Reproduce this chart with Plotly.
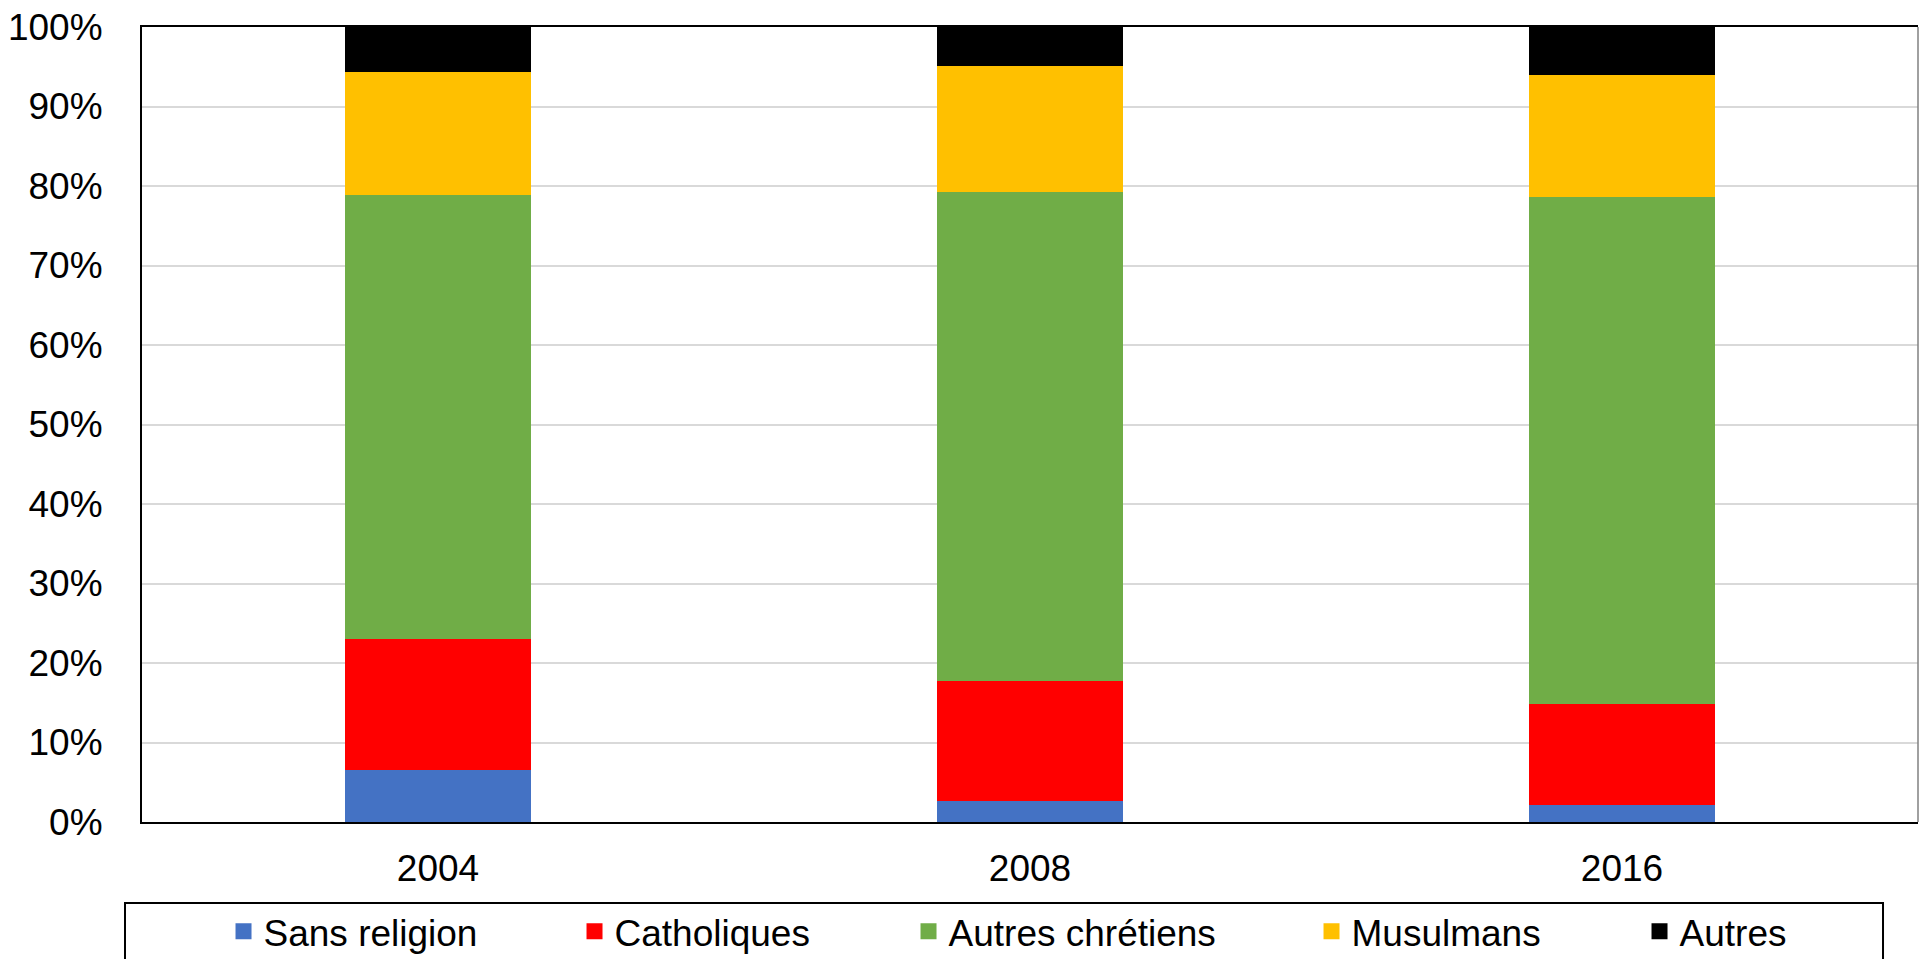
import plotly.graph_objects as go

years = ["2004", "2008", "2016"]
series_names = ["Sans religion", "Catholiques", "Autres chrétiens", "Musulmans", "Autres"]
sans_religion = [6.6, 2.7, 2.1]
catholiques = [16.4, 15.0, 12.7]
autres_chretiens = [55.9, 61.5, 63.8]
musulmans = [15.4, 15.9, 15.4]
autres = [5.7, 4.9, 6.0]
colors = ["#4472C4", "#FF0000", "#70AD47", "#FFC000", "#000000"]
y_ticks = [0, 10, 20, 30, 40, 50, 60, 70, 80, 90, 100]
y_tick_labels = [f"{t}%" for t in y_ticks]

values = [sans_religion, catholiques, autres_chretiens, musulmans, autres]
legend_widths = [306, 289, 358, 283, 150]

fig = go.Figure()
for name, vals, col in zip(series_names, values, colors):
    fig.add_trace(go.Bar(
        x=years, y=vals, name=name, marker=dict(color=col, line=dict(width=0)),
        showlegend=False,
    ))
# legend entries with larger square swatches
for name, col, lw in zip(series_names, colors, legend_widths):
    fig.add_trace(go.Scatter(
        x=[None], y=[None], mode="markers", name=name, legendwidth=lw,
        marker=dict(symbol="square", size=19, color=col, line=dict(width=0)),
        showlegend=True, hoverinfo="skip",
    ))

FONT = "Liberation Sans, Arial, sans-serif"
FS = 37
fig.update_layout(
    barmode="stack",
    bargap=0.687,
    width=1919, height=959,
    margin=dict(l=142, r=1, t=27, b=137, autoexpand=False),
    paper_bgcolor="white", plot_bgcolor="white",
    font=dict(family=FONT, size=FS, color="black"),
    xaxis=dict(
        showline=True, linecolor="black", linewidth=2, mirror=True,
        ticks="", showgrid=False, ticklabelstandoff=13,
        tickfont=dict(size=FS),
    ),
    yaxis=dict(
        range=[0, 100], tickvals=y_ticks, ticktext=y_tick_labels,
        showline=True, linecolor="black", linewidth=2,
        showgrid=True, gridcolor="#d9d9d9", gridwidth=1.5,
        ticks="", ticklabelstandoff=30, zeroline=False,
        tickfont=dict(size=FS),
    ),
    legend=dict(
        orientation="h", x=0.0459, xanchor="left", y=-0.138, yanchor="middle",
        font=dict(size=FS), bgcolor="rgba(0,0,0,0)", borderwidth=0,
        traceorder="normal",
    ),
    shapes=[
        dict(type="line", xref="paper", yref="paper", x0=1, x1=1, y0=0, y1=1,
             line=dict(color="#808080", width=1.5)),
        dict(type="rect", xref="paper", yref="paper",
             x0=-0.00957, x1=0.9803, y0=-0.1019, y1=-0.21,
             line=dict(color="black", width=2), fillcolor="rgba(0,0,0,0)", layer="below"),
    ],
)

fig.write_html(
    "out.html",
    config={"displayModeBar": False},
    post_script="document.body.style.margin='0';document.body.style.overflow='hidden';",
)
